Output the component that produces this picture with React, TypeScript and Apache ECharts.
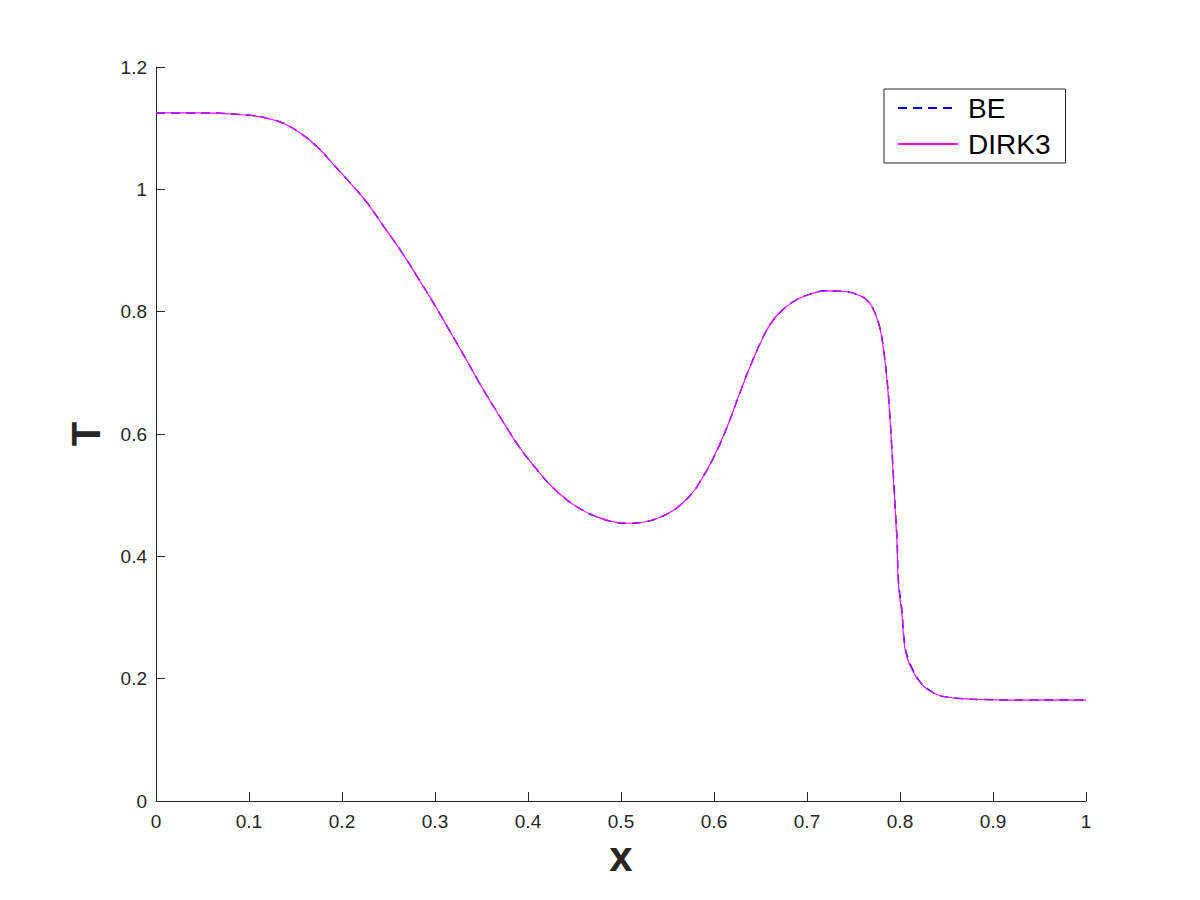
import React, { useEffect, useRef } from "react";
import * as echarts from "echarts";

const xValues = [
  0, 0.05, 0.1, 0.12, 0.137, 0.155, 0.173, 0.19, 0.209, 0.227, 0.245, 0.263, 0.281, 0.3,
  0.316, 0.335, 0.349, 0.37, 0.39, 0.41, 0.425, 0.442, 0.457, 0.47, 0.49, 0.507, 0.525,
  0.542, 0.555, 0.567, 0.578, 0.585, 0.599, 0.614, 0.628, 0.642, 0.655, 0.663, 0.671, 0.685, 0.7,
  0.721, 0.74, 0.757, 0.765, 0.771, 0.778, 0.782, 0.786, 0.789, 0.791, 0.793, 0.795, 0.797,
  0.798, 0.8, 0.802, 0.805, 0.809, 0.814, 0.82, 0.829, 0.84, 0.85, 0.87, 0.886, 0.92, 0.96, 1.0,
];

const dirk3Values = [
  1.125, 1.125, 1.121, 1.116, 1.108, 1.092, 1.07, 1.042, 1.01, 0.978, 0.939, 0.9, 0.857, 0.81,
  0.768, 0.718, 0.68, 0.628, 0.58, 0.541, 0.515, 0.492, 0.477, 0.467, 0.457, 0.454, 0.456,
  0.464, 0.474, 0.488, 0.506, 0.522, 0.56, 0.611, 0.668, 0.722, 0.765, 0.785, 0.799, 0.816, 0.827,
  0.834, 0.833, 0.826, 0.818, 0.805, 0.775, 0.74, 0.688, 0.63, 0.579, 0.525, 0.47, 0.415,
  0.361, 0.33, 0.307, 0.252, 0.228, 0.212, 0.197, 0.183, 0.174, 0.17, 0.167, 0.166, 0.165, 0.165, 0.165,
];

const beValues = [
  1.125, 1.125, 1.121, 1.116, 1.108, 1.092, 1.07, 1.042, 1.01, 0.978, 0.939, 0.9, 0.857, 0.81,
  0.768, 0.718, 0.68, 0.628, 0.58, 0.541, 0.515, 0.492, 0.477, 0.467, 0.457, 0.454, 0.456,
  0.464, 0.474, 0.488, 0.506, 0.522, 0.56, 0.611, 0.668, 0.722, 0.765, 0.785, 0.799, 0.816, 0.827,
  0.834, 0.833, 0.826, 0.818, 0.805, 0.776, 0.742, 0.69, 0.633, 0.583, 0.53, 0.476, 0.421,
  0.367, 0.336, 0.312, 0.257, 0.231, 0.214, 0.198, 0.184, 0.174, 0.17, 0.167, 0.166, 0.165, 0.165, 0.165,
];

const xTickLabels = ["0", "0.1", "0.2", "0.3", "0.4", "0.5", "0.6", "0.7", "0.8", "0.9", "1"];
const yTickLabels = ["0", "0.2", "0.4", "0.6", "0.8", "1", "1.2"];

const FONT = "'Liberation Sans', Arial, Helvetica, sans-serif";
const AXIS_COLOR = "#262626";

export default function App() {
  const ref = useRef<HTMLDivElement>(null);

  useEffect(() => {
    if (!ref.current) return;
    const chart = echarts.init(ref.current, undefined, { renderer: "svg" });
    const beData = xValues.map((x, i) => [x, beValues[i]]);
    const dirkData = xValues.map((x, i) => [x, dirk3Values[i]]);

    chart.setOption({
      animation: false,
      backgroundColor: "#ffffff",
      grid: { left: 156, right: 114, top: 67, bottom: 99, containLabel: false },
      legend: {
        orient: "vertical",
        left: 884,
        top: 89,
        backgroundColor: "#ffffff",
        borderColor: AXIS_COLOR,
        borderWidth: 1,
        borderRadius: 0,
        padding: [4, 15, 4, 13],
        itemWidth: 60,
        itemHeight: 14,
        itemGap: 6,
        itemStyle: { opacity: 0 },
        data: ["BE", "DIRK3"],
        textStyle: {
          fontFamily: FONT,
          fontSize: 28,
          color: "#000000",
          lineHeight: 30,
          padding: [0, 0, 0, 5],
        },
      },
      xAxis: {
        type: "value",
        min: 0,
        max: 1,
        interval: 0.1,
        name: "x",
        nameLocation: "middle",
        nameGap: 30,
        nameTextStyle: {
          fontFamily: FONT,
          fontSize: 42,
          fontWeight: "bold",
          color: AXIS_COLOR,
        },
        axisLine: { show: true, lineStyle: { color: AXIS_COLOR, width: 1 } },
        axisTick: { show: true, inside: true, length: 9, lineStyle: { color: AXIS_COLOR } },
        axisLabel: {
          fontFamily: FONT,
          fontSize: 19,
          color: AXIS_COLOR,
          margin: 11,
          formatter: (v: number) => xTickLabels[Math.round(v * 10)] ?? "",
        },
        splitLine: { show: false },
      },
      yAxis: {
        type: "value",
        min: 0,
        max: 1.2,
        interval: 0.2,
        name: "T",
        nameLocation: "middle",
        nameRotate: 90,
        nameGap: 50,
        nameTextStyle: {
          fontFamily: FONT,
          fontSize: 40,
          fontWeight: "bold",
          color: AXIS_COLOR,
        },
        axisLine: { show: true, lineStyle: { color: AXIS_COLOR, width: 1 } },
        axisTick: { show: true, inside: true, length: 9, lineStyle: { color: AXIS_COLOR } },
        axisLabel: {
          fontFamily: FONT,
          fontSize: 19,
          color: AXIS_COLOR,
          margin: 9,
          formatter: (v: number) => yTickLabels[Math.round(v * 5)] ?? "",
        },
        splitLine: { show: false },
      },
      series: [
        {
          name: "BE",
          type: "line",
          data: beData,
          showSymbol: false,
          symbol: "none",
          smooth: 0.45,
          color: "#0000ff",
          lineStyle: { color: "#0000ff", width: 1.5, type: [9, 6] },
          z: 2,
        },
        {
          name: "DIRK3",
          type: "line",
          data: dirkData,
          showSymbol: false,
          symbol: "none",
          smooth: 0.45,
          color: "#ff00ff",
          lineStyle: { color: "#ff00ff", width: 1.1, type: "solid" },
          z: 3,
        },
      ],
    });

    return () => chart.dispose();
  }, []);

  return (
    <div
      ref={ref}
      style={{ width: 1200, height: 900, position: "absolute", left: 0, top: 0 }}
    />
  );
}
